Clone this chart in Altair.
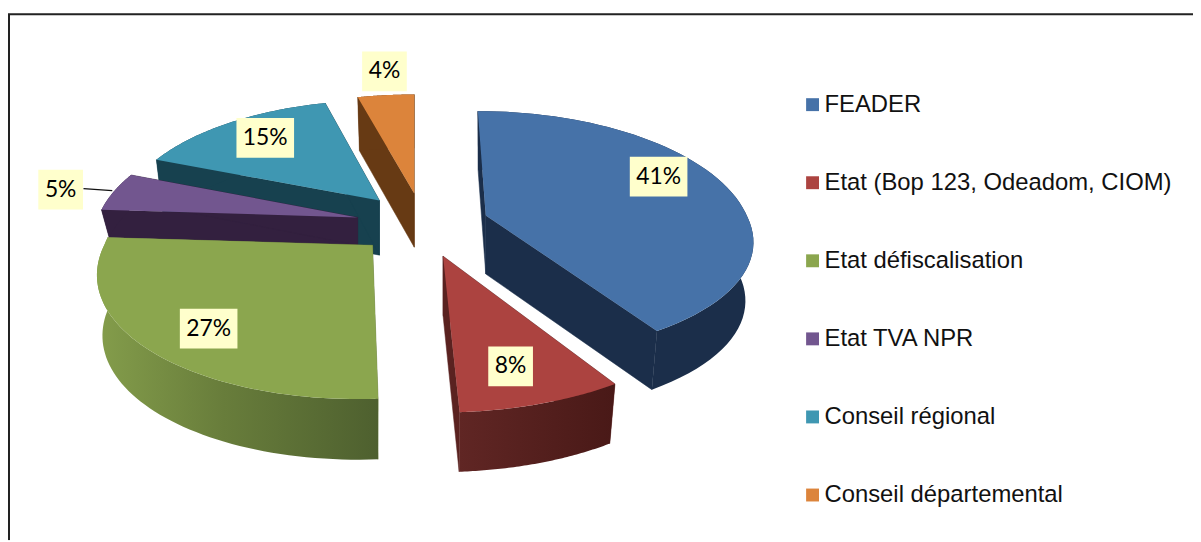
import math
import altair as alt

categories = ["FEADER", "Etat (Bop 123, Odeadom, CIOM)", "Etat défiscalisation",
              "Etat TVA NPR", "Conseil régional", "Conseil départemental"]
shares = [41, 8, 27, 5, 15, 4]
labels = ["41%", "8%", "27%", "5%", "15%", "4%"]
top_colors = ["#4672A8", "#AC4340", "#8BA64E", "#72568F", "#3F97B2", "#DC843B"]
wall_colors = ["#1B2E4A", "#5A2220", "#66793A", "#33203F", "#17414F", "#673A14"]

# layout of the exploded, tilted pie (screen pixels)
apex_x = [489, 446, 375, 360, 382, 417]
apex_y = [215, 256, 245, 217, 200, 193]
depth = [59, 60, 61, 28, 55, 54]
lean_back = [-8, 0, 0, 0, 0, 0]
lean_front = [0, -5, -15, 0, 0, 0]
scale_x = [0.98, 1, 1.008, 0.975, 0.96, 1]
front_x = [0.05, 0.06, 0, 0, 0, 0]
back_y = [1, 1, 1, 1, 0.96, 0.95]
front_y = [0.95, 1.05, 1.033, 1, 1, 1]
shrink = [0.97, 0.97, 0.98, 0.97, 0.97, 0.97]
label_x = [663, 514, 210, 61, 267, 387]
label_y = [176, 367, 329, 189, 137, 70]
label_w = [58, 45, 58, 45, 58, 45]
R, H, K = 268.0, 123.5, 0.1765
draw_order = [5, 4, 3, 0, 2, 1]
OX, OY = 8, 8


def poly(points):
    pts = [[x - OX, y - OY] for x, y in points]
    pts.append(pts[0])
    return {"type": "Polygon", "coordinates": [pts]}


def feature(geom, serie=None):
    return {"type": "Feature", "geometry": geom, "properties": {"serie": serie}}


def arc(i, start, stop, steps=60):
    pts = []
    for s in range(steps + 1):
        t = math.radians(start + (stop - start) * s / steps)
        u, v = math.sin(t), math.cos(t)
        w = 1 + K * v
        lean = lean_back[i] * max(v, 0) + lean_front[i] * max(-v, 0)
        fx = scale_x[i] * (1 + front_x[i] * max(-v, 0))
        fy = back_y[i] if v > 0 else front_y[i]
        pts.append((apex_x[i] + R * fx * u / w + lean, apex_y[i] - H * fy * v / w))
    return pts


def lower(i, p):
    return (apex_x[i] + (p[0] - apex_x[i]) * shrink[i], p[1] + depth[i])


proj = dict(type="identity", scale=1, translate=[0, 0])
color_scale = alt.Scale(domain=categories, range=top_colors)
legend = alt.Legend(orient="none", legendX=798, legendY=83.5, title=None,
                    symbolType="square", symbolSize=169, symbolStrokeWidth=0,
                    symbolOpacity=1, labelFont="Liberation Sans", labelFontSize=24,
                    labelColor="#111111", rowPadding=54.6, labelOffset=0,
                    labelLimit=400, values=categories)

layers = []

# frame: only the top and left edges are inside the picture
frame = {"type": "LineString",
         "coordinates": [[9 - OX, 542 - OY], [9 - OX, 12.5 - OY], [1201 - OX, 12.5 - OY]]}
layers.append(alt.Chart(alt.Data(values=[feature(frame)])).mark_geoshape(
    filled=False, stroke="#222222", strokeWidth=2))

starts = [sum(shares[:i]) * 3.6 for i in range(len(shares))]
for i in draw_order:
    a0, a1 = starts[i], starts[i] + shares[i] * 3.6
    pts = arc(i, a0, a1)
    apex = (apex_x[i], apex_y[i])
    walls = []
    for p in (pts[0], pts[-1]):
        walls.append(poly([apex, p, lower(i, p), lower(i, apex)]))
    outer = poly(pts + [lower(i, p) for p in reversed(pts)])
    layers.append(alt.Chart(alt.Data(values=[feature(g) for g in walls])).mark_geoshape(
        fill=wall_colors[i], stroke=wall_colors[i], strokeWidth=0.5))
    if i == 2:
        outer_fill = alt.Gradient(gradient="linear", x1=0, x2=1, y1=0, y2=0, stops=[
            alt.GradientStop(color="#849D4B", offset=0),
            alt.GradientStop(color="#687D3B", offset=0.45),
            alt.GradientStop(color="#4E602F", offset=1)])
    elif i == 1:
        outer_fill = alt.Gradient(gradient="linear", x1=0, x2=1, y1=0, y2=0, stops=[
            alt.GradientStop(color="#602624", offset=0),
            alt.GradientStop(color="#491917", offset=1)])
    else:
        outer_fill = wall_colors[i]
    layers.append(alt.Chart(alt.Data(values=[feature(outer)])).mark_geoshape(
        fill=outer_fill, strokeWidth=0))
    top = poly([apex] + pts)
    layers.append(alt.Chart(alt.Data(values=[feature(top, categories[i])])).mark_geoshape(
        strokeWidth=0).encode(
        color=alt.Color("properties.serie:N", scale=color_scale, legend=legend)))

# leader line of the 5% label
leader = {"type": "LineString", "coordinates": [[84 - OX, 188 - OY], [113 - OX, 190 - OY]]}
layers.append(alt.Chart(alt.Data(values=[feature(leader)])).mark_geoshape(
    filled=False, stroke="#111111", strokeWidth=1.3))

# data labels
boxes = []
rows = []
for i in range(len(labels)):
    cx, cy, bw = label_x[i], label_y[i], label_w[i]
    boxes.append(feature(poly([(cx - bw / 2, cy - 20), (cx + bw / 2, cy - 20),
                               (cx + bw / 2, cy + 20), (cx - bw / 2, cy + 20)])))
    rows.append({"label": labels[i], "lon": cx - OX, "lat": cy - OY})
layers.append(alt.Chart(alt.Data(values=boxes)).mark_geoshape(fill="#FFFFCC", strokeWidth=0))
layers.append(alt.Chart(alt.Data(values=rows)).mark_text(
    font="Lato", fontSize=23, color="#000000", baseline="middle", align="center").encode(
    longitude="lon:Q", latitude="lat:Q", text="label:N"))

chart = alt.layer(*layers).project(**proj).properties(
    width=1193, height=534, padding=0,
    autosize=alt.AutoSizeParams(type="none"),
    background="white").configure_view(stroke=None).resolve_scale(color="shared")

chart.save("out.html", embed_options={"renderer": "svg", "actions": False})
